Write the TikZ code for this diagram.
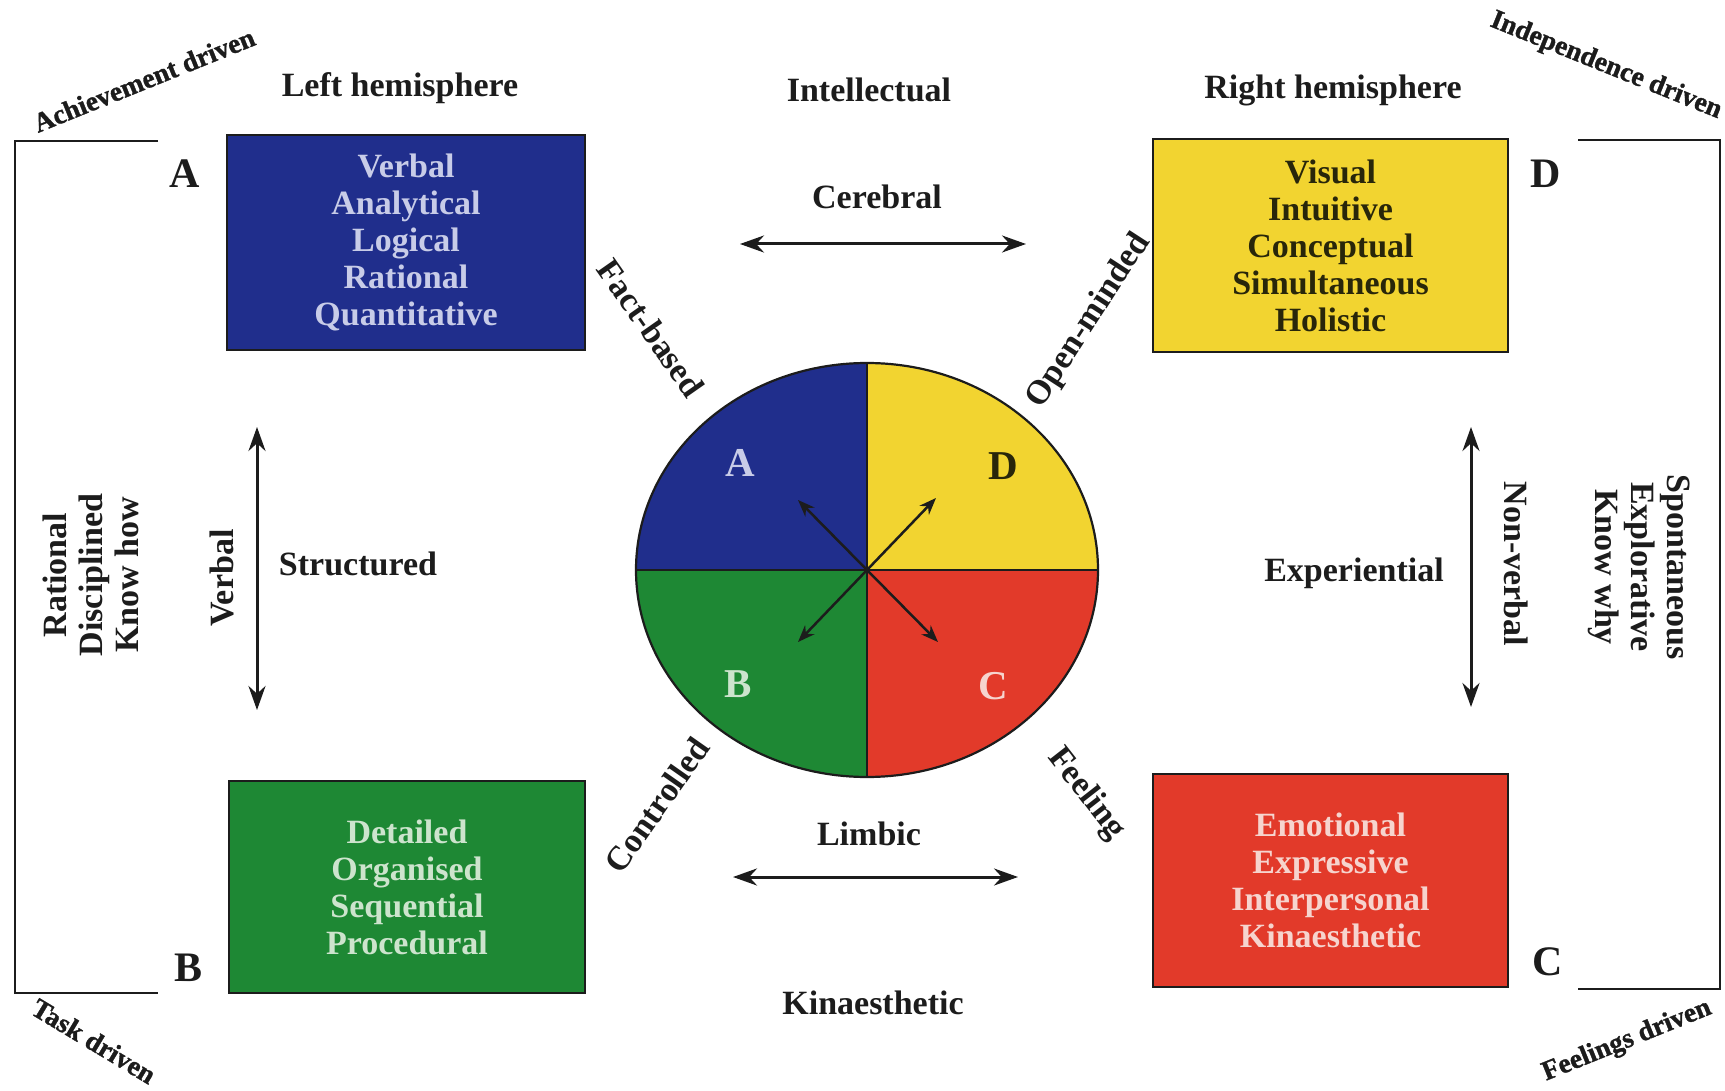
\documentclass[tikz,border=0pt]{standalone}
\usepackage{fontspec}
\setmainfont{Liberation Serif}
\newfontfamily\heavyfont{Liberation Serif}[FakeBold=1.2]
\usetikzlibrary{arrows.meta}
\definecolor{qblue}{RGB}{32,46,140}
\definecolor{qyellow}{RGB}{242,212,48}
\definecolor{qgreen}{RGB}{30,136,52}
\definecolor{qred}{RGB}{226,58,42}
\definecolor{bluetxt}{RGB}{200,204,232}
\definecolor{greentxt}{RGB}{205,228,205}
\definecolor{redtxt}{RGB}{246,212,206}
\definecolor{ytxt}{RGB}{40,38,10}
\definecolor{ink}{RGB}{28,28,28}
\begin{document}
\begin{tikzpicture}[x=1pt,y=-1pt,
  lbl/.style={font=\fontsize{34}{36}\selectfont\bfseries, inner sep=0pt, text=ink, align=center},
  big/.style={font=\fontsize{42}{44}\selectfont\bfseries, inner sep=0pt, text=ink},
  cirl/.style={font=\fontsize{41}{43}\selectfont\bfseries, inner sep=0pt},
  small/.style={font=\heavyfont\bfseries\fontsize{27.5}{29}\selectfont, inner sep=0pt, text=ink},
  qbox/.style={draw=ink, line width=2.5pt, align=center, font=\fontsize{34}{37}\selectfont\bfseries, inner sep=0pt},
  dbl/.style={line width=3pt, draw=ink, {Stealth[length=24pt,width=17pt]}-{Stealth[length=24pt,width=17pt]}},
  inarr/.style={line width=2.5pt, draw=ink, -{Stealth[length=17pt,width=13pt]}},
  brk/.style={line width=2.5pt, draw=ink}
]
\useasboundingbox (0,0) rectangle (1725,1091);
\fill[white] (0,0) rectangle (1725,1091);

% corner labels
\node[small, rotate=22] (ach) at (144,80) {Achievement driven};
\node[small, rotate=-22] (ind) at (1606,66) {Independence driven};
\node[small, rotate=-31] (task) at (94,1041) {Task driven};
\node[small, rotate=22] (feel) at (1627,1041) {Feelings driven};

% brackets
\coordinate (lt1) at (158,141); \coordinate (lt0) at (15,141);
\coordinate (lb0) at (15,993); \coordinate (lb1) at (158,993);
\draw[brk] (lt1) -- (lt0) -- (lb0) -- (lb1);
\coordinate (rt1) at (1578,140); \coordinate (rt0) at (1720,140);
\coordinate (rb0) at (1720,989); \coordinate (rb1) at (1578,989);
\draw[brk] (rt1) -- (rt0) -- (rb0) -- (rb1);

% quadrant letters outside
\node[big] (la) at (185,174) {A};
\node[big] (lbB) at (189,968) {B};
\node[big] (ld) at (1546,174) {D};
\node[big] (lc) at (1548,962) {C};

% headings
\node[lbl] (lh) at (400,88) {Left hemisphere};
\node[lbl] (rh) at (1333,90) {Right hemisphere};
\node[lbl] (intel) at (869,90) {Intellectual};
\node[lbl] (cereb) at (877,197) {Cerebral};
\node[lbl] (limb) at (869,834) {Limbic};
\node[lbl] (kin) at (873,1003) {Kinaesthetic};
\node[lbl] (struct) at (358,564) {Structured};
\node[lbl] (exper) at (1354,573) {Experiential};
\node[lbl, rotate=90] (verb) at (222,578) {Verbal};
\node[lbl, rotate=-90] (nverb) at (1516,564) {Non-verbal};
\node[lbl, rotate=90] (ratl) at (91,575) {Rational\\Disciplined\\Know how};
\node[lbl, rotate=-90] (spont) at (1639,567) {Spontaneous\\Explorative\\Know why};

\node[lbl, rotate=-55] (fact) at (651,328) {Fact-based};
\node[lbl, rotate=57] (open) at (1089,321) {Open-minded};
\node[lbl, rotate=55] (ctrl) at (657,805) {Controlled};
\node[lbl, rotate=-52] (feeling) at (1086,794) {Feeling};

% boxes
\node[qbox, fill=qblue, text=bluetxt, minimum width=358pt, minimum height=215pt] (boxA) at (406,242.5)
  {Verbal\\Analytical\\Logical\\Rational\\Quantitative};
\node[qbox, fill=qyellow, text=ytxt, minimum width=355pt, minimum height=213pt] (boxD) at (1330.5,245.5)
  {Visual\\Intuitive\\Conceptual\\Simultaneous\\Holistic};
\node[qbox, fill=qgreen, text=greentxt, minimum width=356pt, minimum height=212pt] (boxB) at (407,887)
  {Detailed\\Organised\\Sequential\\Procedural};
\node[qbox, fill=qred, text=redtxt, minimum width=355pt, minimum height=213pt] (boxC) at (1330.5,880.5)
  {Emotional\\Expressive\\Interpersonal\\Kinaesthetic};

% arrows between labels
\coordinate (cl) at (740,244); \coordinate (cr) at (1026,244);
\draw[dbl] (cl) -- (cr);
\coordinate (ll) at (733,877); \coordinate (lr) at (1018,877);
\draw[dbl] (ll) -- (lr);
\coordinate (vt) at (257,427); \coordinate (vb) at (257,710);
\draw[dbl] (vt) -- (vb);
\coordinate (nt) at (1471,427); \coordinate (nb) at (1471,707);
\draw[dbl] (nt) -- (nb);

% circle
\coordinate (c) at (867,570);
\coordinate (cW) at (636,570); \coordinate (cE) at (1098,570);
\coordinate (cN) at (867,363); \coordinate (cS) at (867,777);
\fill[qblue] (c) -- (cW) arc[start angle=180, end angle=270, x radius=231, y radius=207] -- cycle;
\fill[qyellow] (c) -- (cN) arc[start angle=270, end angle=360, x radius=231, y radius=207] -- cycle;
\fill[qred] (c) -- (cE) arc[start angle=0, end angle=90, x radius=231, y radius=207] -- cycle;
\fill[qgreen] (c) -- (cS) arc[start angle=90, end angle=180, x radius=231, y radius=207] -- cycle;
\draw[line width=2.2pt, draw=ink] (c) ellipse[x radius=231, y radius=207];
\draw[line width=2.2pt, draw=ink] (cW) -- (cE);
\draw[line width=2.2pt, draw=ink] (cN) -- (cS);

\node[cirl, text=bluetxt] (ca) at (740,463) {A};
\node[cirl, text=ytxt] (cd) at (1003,466) {D};
\node[cirl, text=greentxt] (cb) at (738,684) {B};
\node[cirl, text=redtxt] (cc) at (993,686) {C};

\coordinate (aA) at (798,500); \coordinate (aC) at (938,642);
\coordinate (aB) at (798,642); \coordinate (aD) at (936,498);
\draw[inarr] (c) -- (aA);
\draw[inarr] (c) -- (aC);
\draw[inarr] (c) -- (aB);
\draw[inarr] (c) -- (aD);
\end{tikzpicture}
\end{document}
